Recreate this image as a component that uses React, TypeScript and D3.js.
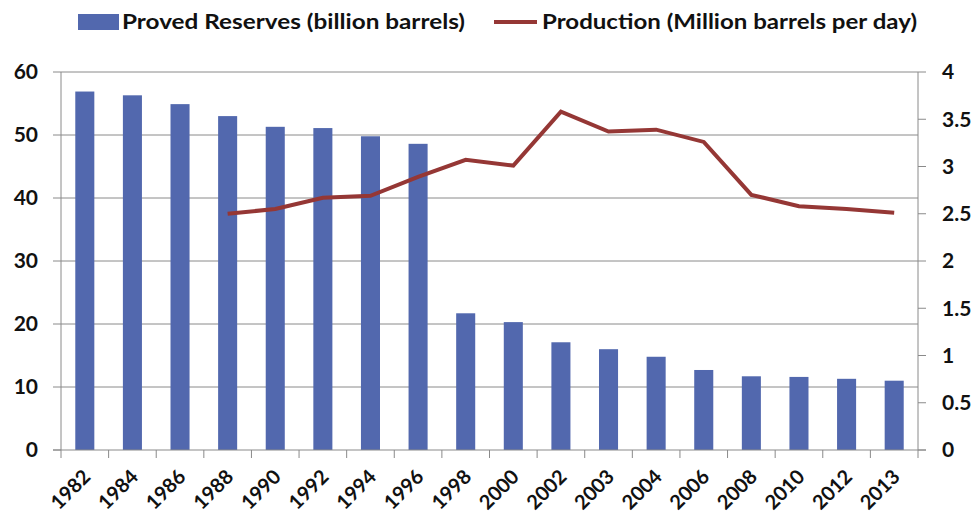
import React from "react";
import * as d3 from "d3";

const years = ["1982","1984","1986","1988","1990","1992","1994","1996","1998","2000","2002","2003","2004","2006","2008","2010","2012","2013"];
const reserves = [56.9,56.3,54.9,53.0,51.3,51.1,49.8,48.6,21.7,20.3,17.1,16.0,14.8,12.7,11.7,11.6,11.3,11.0];
const productionYears = ["1988","1990","1992","1994","1996","1998","2000","2002","2003","2004","2006","2008","2010","2012","2013"];
const production = [2.50,2.55,2.67,2.69,2.89,3.07,3.01,3.58,3.37,3.39,3.26,2.70,2.58,2.55,2.51];
const leftTicks = [0,10,20,30,40,50,60];
const rightTicks = [0,0.5,1,1.5,2,2.5,3,3.5,4];

const W = 975, H = 518;
const L = 61, R = 918, T = 72, B = 450;
const FONT = "Lato, 'Open Sans', sans-serif";
const BAR = "#5268AE";
const LINE = "#953735";
const GRID = "#8a8a8a";

export default function App() {
  const xOuter = d3.scaleBand<string>().domain(years).range([L, R]).padding(0);
  const x = d3.scaleBand<string>().domain(years).range([L, R]).paddingInner(0.6).paddingOuter(0.3);
  const yL = d3.scaleLinear().domain([0, 60]).range([B, T]);
  const yR = d3.scaleLinear().domain([0, 4]).range([B, T]);
  const line = d3.line<number>()
    .x((_, i) => (xOuter(productionYears[i]) as number) + xOuter.bandwidth() / 2)
    .y((d) => yR(d));
  const boundaries = [...years.map((y) => xOuter(y) as number), R];

  return (
    <svg width={W} height={H} style={{ position: "absolute", left: 0, top: 0, background: "#fff" }} fontFamily={FONT}>
      {/* gridlines */}
      {leftTicks.filter((t) => t > 0).map((t) => (
        <line key={"g" + t} x1={L} x2={R} y1={yL(t)} y2={yL(t)} stroke={GRID} strokeWidth={1} />
      ))}
      {/* bars */}
      {years.map((yr, i) => (
        <rect key={yr} x={x(yr)} y={yL(reserves[i])} width={x.bandwidth()} height={B - yL(reserves[i])} fill={BAR} />
      ))}
      {/* axes */}
      <line x1={L} x2={L} y1={T} y2={B} stroke={GRID} />
      <line x1={R} x2={R} y1={T} y2={B} stroke={GRID} />
      <line x1={L - 8} x2={R + 8} y1={B} y2={B} stroke={GRID} />
      {leftTicks.map((t) => (
        <g key={"l" + t}>
          <line x1={L - 8} x2={L} y1={yL(t)} y2={yL(t)} stroke={GRID} />
          <text x={38} y={yL(t)} dy="0.35em" textAnchor="end" fontSize={21} fontWeight="bold" fill="#111">{t}</text>
        </g>
      ))}
      {rightTicks.map((t) => (
        <g key={"r" + t}>
          <line x1={R} x2={R + 8} y1={yR(t)} y2={yR(t)} stroke={GRID} />
          <text x={942} y={yR(t)} dy="0.35em" textAnchor="start" fontSize={21} fontWeight="bold" fill="#111">{t}</text>
        </g>
      ))}
      {boundaries.map((bx, i) => (
        <line key={"xt" + i} x1={bx} x2={bx} y1={B} y2={B + 8} stroke={GRID} />
      ))}
      {years.map((yr) => {
        const cx = (xOuter(yr) as number) + xOuter.bandwidth() / 2 + 7;
        const cy = 478;
        return (
          <text key={"xl" + yr} x={cx} y={cy} transform={`rotate(-45 ${cx} ${cy})`} textAnchor="end" fontSize={20} fontWeight="bold" fill="#111">{yr}</text>
        );
      })}
      {/* line */}
      <path d={line(production) || ""} fill="none" stroke={LINE} strokeWidth={4} strokeLinejoin="miter" />
      {/* legend */}
      <rect x={78} y={14} width={41} height={16} fill={BAR} />
      <text x={122} y={29} fontSize={21} fontWeight="bold" fill="#111" textLength={343} lengthAdjust="spacingAndGlyphs">Proved Reserves (billion barrels)</text>
      <line x1={494} x2={537} y1={22} y2={22} stroke={LINE} strokeWidth={4} />
      <text x={542} y={29} fontSize={21} fontWeight="bold" fill="#111" textLength={375} lengthAdjust="spacingAndGlyphs">Production (Million barrels per day)</text>
    </svg>
  );
}
